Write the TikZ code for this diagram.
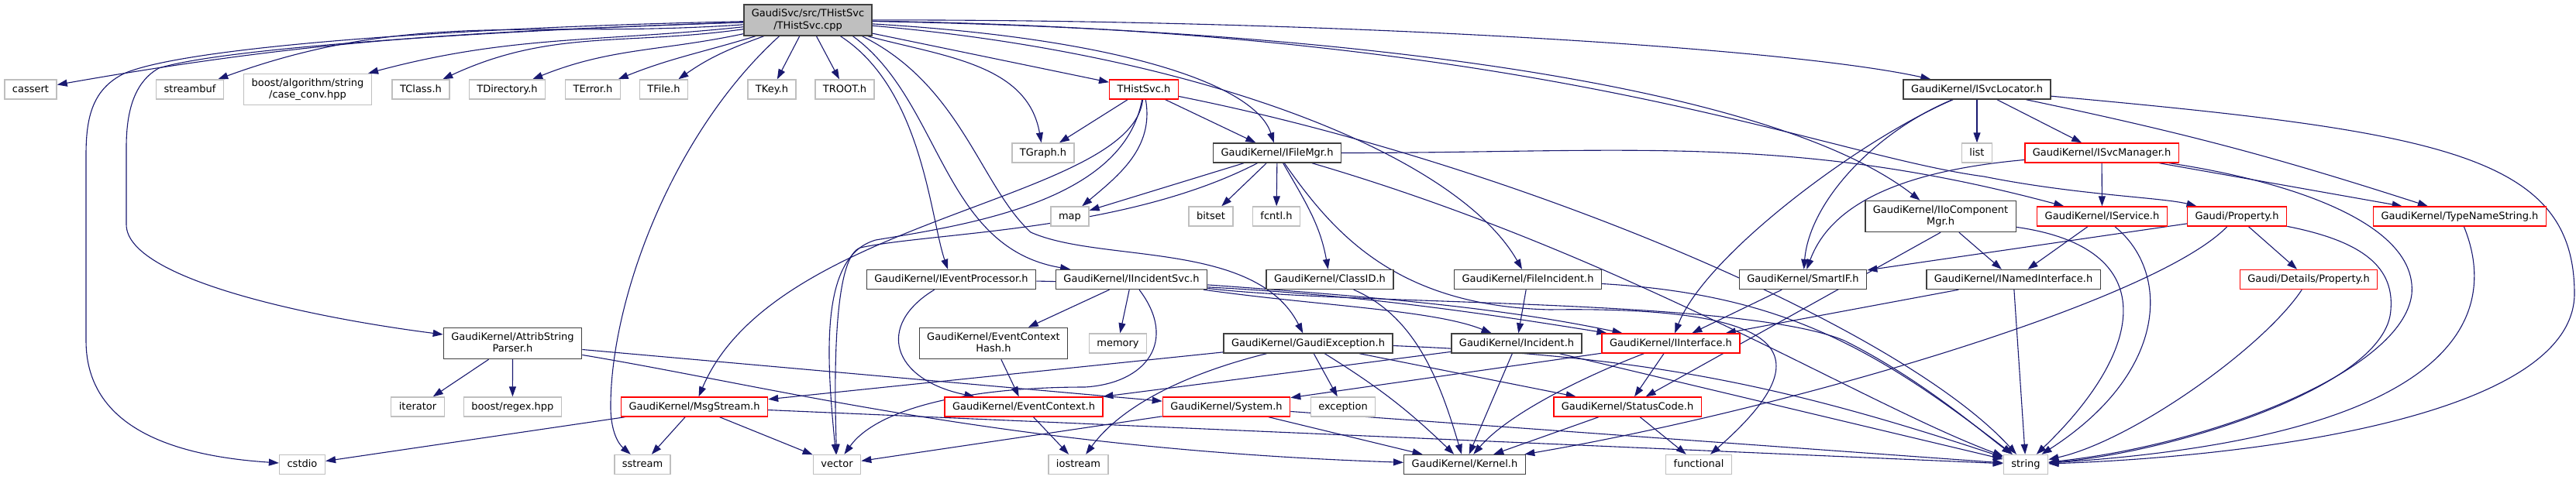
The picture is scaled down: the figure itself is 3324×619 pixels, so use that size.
\documentclass[tikz,border=0pt]{standalone}
\usepackage{fontspec}
\usepackage{tikz}
\usetikzlibrary{arrows.meta}
\usetikzlibrary{backgrounds}
\newfontfamily\dotfont{DejaVu Sans}
\definecolor{edgeblue}{HTML}{191970}
\definecolor{sysgray}{HTML}{BFBFBF}
\definecolor{docgray}{HTML}{404040}
\definecolor{truncred}{HTML}{FF0000}

\begin{document}
\begin{tikzpicture}[x=1pt, y=1pt,
        hdr/.style={draw=sysgray, line width=1.4pt, fill=white, inner xsep=10pt, inner ysep=6pt,
            minimum height=25pt, align=center, font=\dotfont\fontsize{13}{15.5}\selectfont,
            execute at begin node=\vphantom{dg}},
        doc/.style={hdr, draw=docgray},
        trunc/.style={hdr, draw=truncred},
        srcfile/.style={hdr, draw=docgray, fill=sysgray},
        dep/.style={edgeblue, line width=1.1pt, -{Triangle[length=13pt,width=9pt]}}]
    \useasboundingbox (0,0) rectangle (3324,-619);

    % Rows of the include graph
    \def\yA{-26}    % source file
    \def\yB{-115.5}
    \def\yC{-197.5}
    \def\yD{-279.5}
    \def\yE{-361}
    \def\yF{-443.5}
    \def\yG{-525.5}
    \def\yH{-600}

    % Source file
    \node[srcfile] (cpp) at (1042.5,\yA) {GaudiSvc/src/THistSvc\\/THistSvc.cpp};

    % Row B
    \node[hdr] (cassert) at (39.5,\yB) {cassert};
    \node[hdr] (streambuf) at (245,\yB) {streambuf};
    \node[hdr] (caseconv) at (397,\yB) {boost/algorithm/string\\/case\_conv.hpp};
    \node[hdr] (tclass) at (543,\yB) {TClass.h};
    \node[hdr] (tdirectory) at (654.5,\yB) {TDirectory.h};
    \node[hdr] (terror) at (765,\yB) {TError.h};
    \node[hdr] (tfile) at (856.5,\yB) {TFile.h};
    \node[hdr] (tkey) at (996,\yB) {TKey.h};
    \node[hdr] (troot) at (1090,\yB) {TROOT.h};
    \node[trunc] (thistsvc) at (1476,\yB) {THistSvc.h};
    \node[doc] (isvclocator) at (2551,\yB) {GaudiKernel/ISvcLocator.h};

    % Row C
    \node[hdr] (tgraph) at (1346,\yC) {TGraph.h};
    \node[doc] (ifilemgr) at (1648,\yC) {GaudiKernel/IFileMgr.h};
    \node[hdr] (list) at (2551,\yC) {list};
    \node[trunc] (isvcmanager) at (2712,\yC) {GaudiKernel/ISvcManager.h};

    % Row D
    \node[hdr] (map) at (1380.5,\yD) {map};
    \node[hdr] (bitset) at (1562.5,\yD) {bitset};
    \node[hdr] (fcntl) at (1647,\yD) {fcntl.h};
    \node[doc] (iiocompmgr) at (2504,\yD) {GaudiKernel/IIoComponent\\Mgr.h};
    \node[trunc] (iservice) at (2712.5,\yD) {GaudiKernel/IService.h};
    \node[trunc] (gproperty) at (2886.5,\yD) {Gaudi/Property.h};
    \node[trunc] (typename) at (3174,\yD) {GaudiKernel/TypeNameString.h};

    % Row E
    \node[doc] (ieventproc) at (1227.5,\yE) {GaudiKernel/IEventProcessor.h};
    \node[doc] (iincidentsvc) at (1460,\yE) {GaudiKernel/IIncidentSvc.h};
    \node[doc] (classid) at (1716,\yE) {GaudiKernel/ClassID.h};
    \node[doc] (fileincident) at (1971.5,\yE) {GaudiKernel/FileIncident.h};
    \node[doc] (smartif) at (2326.5,\yE) {GaudiKernel/SmartIF.h};
    \node[doc] (inamedif) at (2598,\yE) {GaudiKernel/INamedInterface.h};
    \node[trunc] (detproperty) at (2979,\yE) {Gaudi/Details/Property.h};

    % Row F
    \node[doc] (attribparser) at (661.5,\yF) {GaudiKernel/AttribString\\Parser.h};
    \node[doc] (evctxhash) at (1282,\yF) {GaudiKernel/EventContext\\Hash.h};
    \node[hdr] (memory) at (1442.5,\yF) {memory};
    \node[doc] (gaudiexc) at (1688,\yF) {GaudiKernel/GaudiException.h};
    \node[doc] (incident) at (1957,\yF) {GaudiKernel/Incident.h};
    \node[trunc] (iinterface) at (2156,\yF) {GaudiKernel/IInterface.h};

    % Row G
    \node[hdr] (iterator) at (539,\yG) {iterator};
    \node[hdr] (boostregex) at (661.4,\yG) {boost/regex.hpp};
    \node[trunc] (msgstream) at (896,\yG) {GaudiKernel/MsgStream.h};
    \node[trunc] (evctx) at (1321,\yG) {GaudiKernel/EventContext.h};
    \node[trunc] (system) at (1582.5,\yG) {GaudiKernel/System.h};
    \node[hdr] (exception) at (1733,\yG) {exception};
    \node[trunc] (statuscode) at (2100,\yG) {GaudiKernel/StatusCode.h};

    % Row H
    \node[hdr] (cstdio) at (390,\yH) {cstdio};
    \node[hdr] (sstream) at (829,\yH) {sstream};
    \node[hdr] (vector) at (1080,\yH) {vector};
    \node[hdr] (iostream) at (1391.5,\yH) {iostream};
    \node[doc] (kernel) at (1890,\yH) {GaudiKernel/Kernel.h};
    \node[hdr] (functional) at (2192,\yH) {functional};
    \node[hdr] (string) at (2614,\yH) {string};

    \begin{scope}[on background layer]
        % Straight includes
        \foreach \a/\b in {cpp/tkey, cpp/troot, cpp/thistsvc, thistsvc/tgraph, thistsvc/ifilemgr,
                ifilemgr/map, ifilemgr/bitset, ifilemgr/fcntl, isvclocator/list, isvclocator/isvcmanager,
                isvcmanager/iservice, isvcmanager/typename, iiocompmgr/inamedif, iservice/inamedif,
                gproperty/detproperty, gproperty/smartif, inamedif/iinterface, inamedif/string,
                smartif/iinterface, iincidentsvc/evctxhash, iincidentsvc/memory, fileincident/incident,
                attribparser/iterator, attribparser/boostregex, attribparser/system, evctxhash/evctx,
                evctx/iostream, gaudiexc/msgstream, gaudiexc/exception, gaudiexc/statuscode,
                incident/evctx, incident/kernel, incident/string, iinterface/system, iinterface/statuscode,
                msgstream/sstream, msgstream/vector, msgstream/cstdio, msgstream/string,
                system/vector, system/kernel, system/string, statuscode/kernel, statuscode/functional}
            \draw[dep] (\a) -- (\b);

        % Source file, to the left
        \draw[dep] (cpp) to[out=182,in=10] (cassert);
        \draw[dep] (cpp) to[out=184,in=20] (streambuf);
        \draw[dep] (cpp) to[out=186,in=15] (caseconv);
        \draw[dep] (cpp) to[out=188,in=25] (tclass);
        \draw[dep] (cpp) to[out=192,in=22] (tdirectory);
        \draw[dep] (cpp) to[out=197,in=22] (terror);
        \draw[dep] (cpp) to[out=200,in=35] (tfile);
        \draw[dep] (cpp) .. controls (600,-35) and (240,-60) .. (160,-95)
            .. controls (120,-115) and (111,-150) .. (111,-200) -- (111,-440)
            .. controls (111,-560) and (240,-590) .. (cstdio);
        \draw[dep] (cpp) .. controls (620,-40) and (290,-62) .. (205,-88)
            .. controls (175,-105) and (163,-140) .. (163,-190) -- (163,-290)
            .. controls (163,-360) and (400,-410) .. (attribparser);
        \draw[dep] ([xshift=-37pt]cpp.south) .. controls (870,-170) and (790,-380) .. (788,-520)
            .. controls (787,-560) and (800,-575) .. (sstream);

        % Source file, downwards and to the right
        \draw[dep] ([xshift=42pt]cpp.south) .. controls (1190,-115) and (1200,-280) .. (ieventproc);
        \draw[dep] ([xshift=58pt]cpp.south) .. controls (1215,-130) and (1215,-320) .. (iincidentsvc);
        \draw[dep] ([xshift=70pt]cpp.south) .. controls (1240,-110) and (1265,-240) .. (1330,-300)
            .. controls (1420,-340) and (1620,-310) .. (gaudiexc);
        \draw[dep] (cpp) to[out=-15,in=100] (tgraph);
        \draw[dep] (cpp) .. controls (1450,-50) and (1620,-110) .. (ifilemgr);
        \draw[dep] (cpp) .. controls (1550,-70) and (1880,-200) .. (fileincident);
        \draw[dep] (cpp) .. controls (1700,-25) and (2300,-60) .. (isvclocator);
        \draw[dep] (cpp) .. controls (1800,-40) and (2300,-120) .. (iiocompmgr);
        \draw[dep] (cpp) .. controls (2000,-40) and (2350,-200) .. (2560,-228)
            .. controls (2680,-252) and (2790,-255) .. (gproperty);

        % THistSvc.h
        \draw[dep] (thistsvc) to[out=-80,in=40] (map);
        \draw[dep] (thistsvc) .. controls (1460,-260) and (1000,-280) .. (msgstream);
        \draw[dep] (thistsvc) .. controls (1450,-260) and (1250,-290) .. (1130,-310)
            .. controls (1060,-330) and (1065,-450) .. (vector);
        \draw[dep] (thistsvc) .. controls (1950,-210) and (2450,-420) .. (string);

        % IFileMgr.h
        \draw[dep] (ifilemgr) to[out=-60,in=100] (classid);
        \draw[dep] (ifilemgr) .. controls (1450,-300) and (1200,-300) .. (1110,-320)
            .. controls (1080,-330) and (1075,-450) .. (vector);
        \draw[dep] (ifilemgr) to[out=0,in=165] (iservice);
        \draw[dep] (ifilemgr) .. controls (1720,-300) and (1800,-395) .. (2000,-400)
            .. controls (2340,-395) and (2340,-470) .. (functional);
        \draw[dep] (ifilemgr) .. controls (2100,-330) and (2400,-520) .. (string);

        % ISvcLocator.h and its neighbours
        \draw[dep] (isvclocator) to[bend left=3] (typename);
        \draw[dep] (isvclocator) .. controls (2420,-170) and (2335,-260) .. (smartif);
        \draw[dep] (isvclocator) .. controls (2400,-180) and (2200,-330) .. (iinterface);
        \draw[dep] (isvclocator) .. controls (3150,-170) and (3322,-200) .. (3322,-380)
            .. controls (3320,-540) and (2900,-590) .. (string);
        \draw[dep] (isvcmanager) .. controls (2440,-222) and (2360,-270) .. (smartif);
        \draw[dep] (isvcmanager) .. controls (2960,-235) and (3120,-290) .. (3112,-380)
            .. controls (3100,-480) and (2850,-575) .. (string);
        \draw[dep] (iiocompmgr.south) -- (statuscode);
        \draw[dep] (iiocompmgr) .. controls (2790,-320) and (2770,-450) .. (string);
        \draw[dep] (iservice) .. controls (2800,-350) and (2800,-480) .. (string);
        \draw[dep] (gproperty) .. controls (2780,-390) and (2300,-530) .. (kernel);
        \draw[dep] (gproperty) .. controls (3040,-310) and (3090,-340) .. (3085,-400)
            .. controls (3080,-500) and (2800,-585) .. (string);
        \draw[dep] (detproperty) .. controls (2920,-450) and (2750,-570) .. (string);
        \draw[dep] (typename) .. controls (3215,-380) and (3220,-560) .. (string);

        % Middle rows
        \draw[dep] (ieventproc) .. controls (1130,-420) and (1150,-490) .. (evctx);
        \draw[dep] (ieventproc) to[bend left=4] (iinterface);
        \draw[dep] (iincidentsvc) .. controls (1800,-385) and (1950,-400) .. (iinterface);
        \draw[dep] (iincidentsvc) .. controls (1700,-395) and (1850,-400) .. (incident);
        \draw[dep] (iincidentsvc) .. controls (1750,-395) and (2250,-385) .. (2380,-440)
            .. controls (2480,-490) and (2560,-560) .. (string);
        \draw[dep] (iincidentsvc) .. controls (1520,-440) and (1480,-495) .. (1400,-500)
            .. controls (1240,-500) and (1130,-530) .. (vector);
        \draw[dep] (fileincident) .. controls (2300,-380) and (2420,-450) .. (string);
        \draw[dep] (classid) .. controls (1830,-410) and (1860,-500) .. (kernel);
        \draw[dep] (gaudiexc) to[bend left=6] (kernel);
        \draw[dep] (gaudiexc) .. controls (1540,-480) and (1450,-520) .. (iostream);
        \draw[dep] (gaudiexc) to[bend left=8] (string);
        \draw[dep] (iinterface) .. controls (2060,-480) and (1950,-530) .. (kernel);
        \draw[dep] (attribparser) .. controls (1000,-500) and (1300,-580) .. (kernel);
    \end{scope}
\end{tikzpicture}
\end{document}
